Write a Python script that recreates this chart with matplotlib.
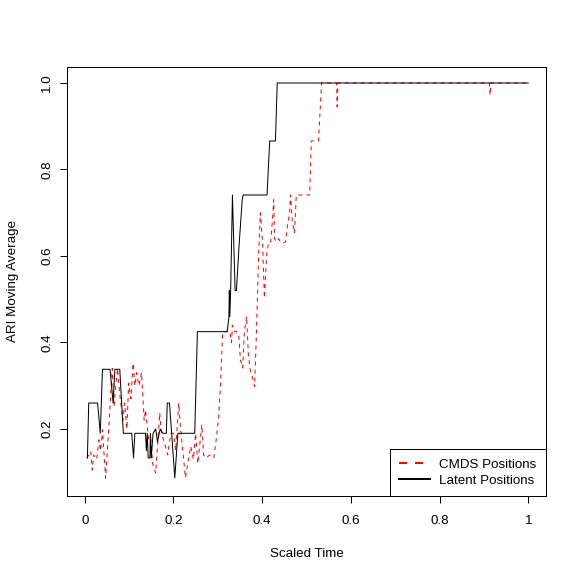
# line plot of ARI moving average for CMDS vs latent positions over scaled time

import matplotlib
matplotlib.use('Agg')
import matplotlib.pyplot as plt
from matplotlib.lines import Line2D

# CMDS positions (red dashed)
cmds_time = [0.0045, 0.0135, 0.017, 0.020, 0.027, 0.032, 0.036, 0.040, 0.047, 0.054,
             0.062, 0.066, 0.070, 0.074, 0.079, 0.086, 0.090, 0.095, 0.099, 0.104,
             0.109, 0.113, 0.117, 0.122, 0.128, 0.134, 0.137, 0.144, 0.149, 0.153,
             0.160, 0.169, 0.173, 0.182, 0.187, 0.194, 0.200, 0.205, 0.212, 0.216,
             0.223, 0.227, 0.234, 0.239, 0.245, 0.250, 0.255, 0.259, 0.264, 0.268,
             0.273, 0.282, 0.291, 0.297, 0.302, 0.306, 0.311, 0.327, 0.331, 0.333,
             0.338, 0.342, 0.347, 0.351, 0.356, 0.360, 0.365, 0.369, 0.374, 0.378,
             0.383, 0.387, 0.392, 0.396, 0.401, 0.405, 0.410, 0.414, 0.419, 0.423,
             0.426, 0.428, 0.432, 0.437, 0.441, 0.446, 0.453, 0.457, 0.462, 0.464,
             0.468, 0.473, 0.477, 0.482, 0.507, 0.511, 0.527, 0.534, 0.568, 0.569,
             0.571, 0.912, 0.914, 0.916, 1.0]
cmds_ari = [0.132, 0.148, 0.105, 0.140, 0.130, 0.175, 0.150, 0.198, 0.086, 0.200,
            0.340, 0.252, 0.300, 0.340, 0.280, 0.220, 0.260, 0.200, 0.306, 0.270,
            0.352, 0.300, 0.330, 0.300, 0.330, 0.220, 0.244, 0.175, 0.180, 0.120,
            0.098, 0.237, 0.190, 0.160, 0.140, 0.190, 0.190, 0.150, 0.260, 0.200,
            0.130, 0.087, 0.130, 0.160, 0.130, 0.190, 0.120, 0.160, 0.210, 0.140,
            0.133, 0.140, 0.133, 0.180, 0.228, 0.300, 0.425, 0.425, 0.400, 0.440,
            0.425, 0.425, 0.420, 0.360, 0.341, 0.425, 0.460, 0.370, 0.330, 0.320,
            0.298, 0.420, 0.600, 0.700, 0.630, 0.503, 0.600, 0.630, 0.630, 0.680,
            0.730, 0.640, 0.633, 0.640, 0.633, 0.630, 0.633, 0.670, 0.700, 0.741,
            0.680, 0.653, 0.741, 0.741, 0.741, 0.866, 0.866, 1.0, 1.0, 0.945,
            1.0, 1.0, 0.972, 1.0, 1.0]

# Latent positions (black solid)
latent_time = [0.006, 0.009, 0.029, 0.035, 0.040, 0.057, 0.064, 0.068, 0.079, 0.087,
               0.106, 0.110, 0.113, 0.137, 0.139, 0.141, 0.143, 0.147, 0.148, 0.150,
               0.154, 0.160, 0.164, 0.170, 0.176, 0.184, 0.186, 0.191, 0.196, 0.203,
               0.210, 0.248, 0.254, 0.321, 0.325, 0.326, 0.327, 0.329, 0.333, 0.339,
               0.342, 0.348, 0.355, 0.357, 0.411, 0.417, 0.430, 0.434, 1.0]
latent_ari = [0.133, 0.260, 0.260, 0.190, 0.338, 0.338, 0.260, 0.338, 0.338, 0.190,
              0.190, 0.133, 0.190, 0.190, 0.150, 0.190, 0.133, 0.133, 0.190, 0.133,
              0.190, 0.200, 0.170, 0.200, 0.190, 0.190, 0.260, 0.260, 0.190, 0.087,
              0.190, 0.190, 0.425, 0.425, 0.457, 0.520, 0.460, 0.520, 0.741, 0.520,
              0.520, 0.625, 0.729, 0.741, 0.741, 0.866, 0.866, 1.0, 1.0]

x_ticks = [0, 0.2, 0.4, 0.6, 0.8, 1.0]
x_tick_labels = ['0', '0.2', '0.4', '0.6', '0.8', '1']
y_ticks = [0.2, 0.4, 0.6, 0.8, 1.0]
y_tick_labels = ['0.2', '0.4', '0.6', '0.8', '1.0']

plt.rcParams['font.family'] = ['Liberation Sans', 'DejaVu Sans']
fs = 9.6
px = 0.72  # one pixel in points at 100 dpi

fig = plt.figure(figsize=(5.81, 5.81), dpi=100)
ax = fig.add_axes([67 / 581, 85 / 581, 479 / 581, 429 / 581])

ax.plot(cmds_time, cmds_ari, color='red', linewidth=px, dashes=(4, 4))
ax.plot(latent_time, latent_ari, color='black', linewidth=px)

ax.set_xlim(-0.04, 1.04)
ax.set_ylim(0.045, 1.037)

ax.set_xticks(x_ticks)
ax.set_xticklabels(x_tick_labels)
ax.set_yticks(y_ticks)
ax.set_yticklabels(y_tick_labels, rotation=90, va='center')
ax.tick_params(labelsize=fs, length=5.2, width=px, colors='black')
ax.tick_params(axis='x', pad=8.5)
ax.tick_params(axis='y', pad=4.8)

for s in ax.spines.values():
    s.set_linewidth(px)

ax.set_xlabel('Scaled Time', fontsize=fs, labelpad=15)
ax.set_ylabel('ARI Moving Average', fontsize=fs, labelpad=16)

handles = [Line2D([0], [0], color='red', linewidth=2 * px, dashes=(4, 4)),
           Line2D([0], [0], color='black', linewidth=2 * px)]
leg = ax.legend(handles, ['CMDS Positions', 'Latent Positions'], loc='lower right',
                fontsize=fs, frameon=True, fancybox=False, edgecolor='black',
                framealpha=1, borderaxespad=0, borderpad=0.7, handlelength=2.3,
                handletextpad=0.7, labelspacing=0.25)
leg.get_frame().set_linewidth(px)

fig.savefig('out.png', dpi=100, facecolor='white')
